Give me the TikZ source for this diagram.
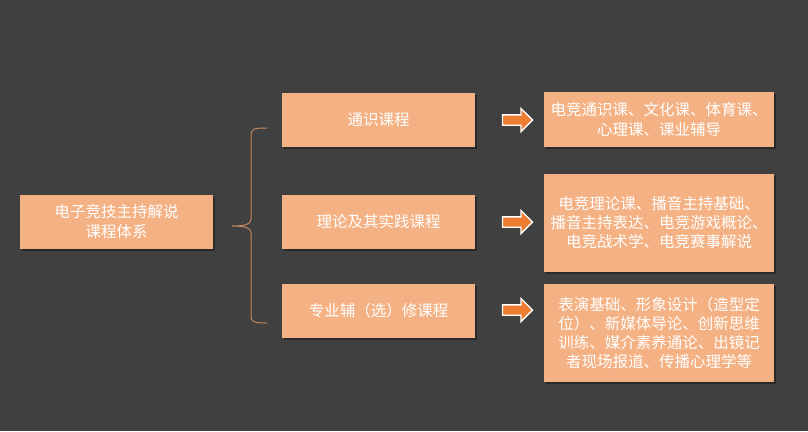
\documentclass[tikz,border=0pt]{standalone}
\usepackage{fontspec}
\setmainfont{Noto Sans CJK SC}
\usetikzlibrary{shapes.arrows,shadows}
\definecolor{bgdark}{RGB}{64,64,64}
\definecolor{boxfill}{RGB}{244,177,131}
\definecolor{arrowfill}{RGB}{237,125,49}
\definecolor{bracecol}{RGB}{196,134,92}
\tikzset{
  course/.style={fill=boxfill, text=white, align=center, inner sep=0pt,
    minimum width=193pt, minimum height=54pt,
    font=\fontsize{15.5}{20}\selectfont,
    drop shadow={shadow xshift=1.5pt, shadow yshift=-1.5pt, fill=black, opacity=0.35}},
  detail/.style={course, minimum width=230pt},
  pointer/.style={single arrow, fill=arrowfill, draw=white, line width=1.3pt,
    inner sep=0pt, text height=4.5pt, text depth=4.5pt,
    minimum height=30pt, single arrow head extend=6.5pt}
}
\begin{document}
\begin{tikzpicture}[x=1pt,y=-1pt]
  \fill[bgdark] (0,0) rectangle (808,431);
  \useasboundingbox (0,0) rectangle (808,431);
  \node[course] (root) at (116.5,222) {电子竞技主持解说\\课程体系};
  \node[course] (general) at (378.5,120) {通识课程};
  \node[course] (theory) at (378.5,222) {理论及其实践课程};
  \node[course] (elective) at (378.5,311) {专业辅（选）修课程};
  \node[pointer] (p1) at (515,120) {};
  \node[pointer] (p2) at (515,222) {};
  \node[pointer] (p3) at (515,310) {};
  \node[detail, minimum height=55pt] (r1) at (659,119.5)
    {电竞通识课、文化课、体育课、\\心理课、课业辅导};
  \node[detail, minimum height=98pt, font=\fontsize{15.5}{19}\selectfont] (r2) at (659,223)
    {电竞理论课、播音主持基础、\\播音主持表达、电竞游戏概论、\\电竞战术学、电竞赛事解说};
  \node[detail, minimum height=98pt, font=\fontsize{15.5}{19}\selectfont] (r3) at (659,333)
    {表演基础、形象设计（造型定\\位）、新媒体导论、创新思维\\训练、媒介素养通论、出镜记\\者现场报道、传播心理学等};
  % brace
  \coordinate (tip) at (232,226);
  \draw[bracecol, line width=1pt]
    (267,128) .. controls (253,128) and (251,129) .. (251,136)
    -- (251,219) .. controls (251,224) and (246,226) .. (tip)
    .. controls (246,226) and (251,228) .. (251,233)
    -- (251,315) .. controls (251,322) and (253,323) .. (267,323);
\end{tikzpicture}
\end{document}
